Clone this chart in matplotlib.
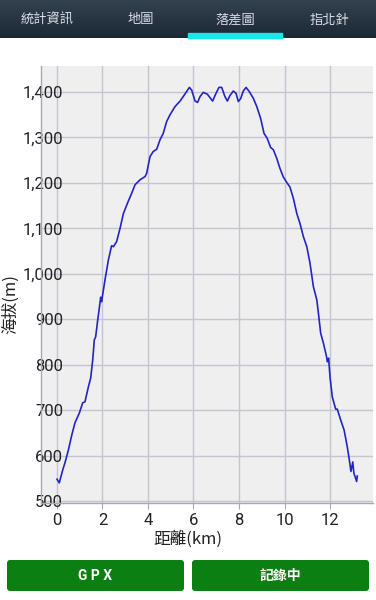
import matplotlib
matplotlib.use("Agg")
import matplotlib.pyplot as plt
import numpy as np
from matplotlib.patches import FancyBboxPatch, Rectangle

plt.rcParams['font.family'] = ['Roboto', 'Noto Sans CJK TC', 'DejaVu Sans']

FIG_W = 376
FIG_H = 600
FIG_DPI = 100

# elevation profile
dist_km = [0.0, 0.1, 0.25, 0.35, 0.5, 0.65, 0.79, 0.98, 1.13, 1.23,
           1.38, 1.48, 1.57, 1.64, 1.70, 1.79, 1.85, 1.92, 1.96, 2.11,
           2.26, 2.40, 2.48, 2.62, 2.77, 2.92, 3.11, 3.28, 3.43, 3.65,
           3.87, 3.94, 4.09, 4.23, 4.38, 4.53, 4.67, 4.82, 4.97, 5.19,
           5.41, 5.55, 5.70, 5.82, 5.92, 6.07, 6.18, 6.29, 6.43, 6.61,
           6.84, 6.99, 7.12, 7.24, 7.38, 7.49, 7.60, 7.75, 7.87, 7.97,
           8.07, 8.19, 8.31, 8.45, 8.63, 8.78, 8.95, 9.10, 9.24, 9.39,
           9.51, 9.66, 9.80, 9.95, 10.10, 10.24, 10.39, 10.54, 10.68, 10.83,
           10.98, 11.12, 11.27, 11.42, 11.49, 11.59, 11.71, 11.85, 11.88, 11.94,
           12.0, 12.10, 12.25, 12.32, 12.47, 12.62, 12.76, 12.85, 12.92, 13.0,
           13.05, 13.10, 13.17, 13.20]
elev_m = [549, 541, 569, 585, 613, 646, 673, 694, 717, 719,
          752, 771, 811, 855, 862, 899, 921, 949, 939, 987,
          1031, 1062, 1060, 1071, 1100, 1133, 1157, 1177, 1196, 1207,
          1214, 1221, 1258, 1269, 1274, 1295, 1309, 1335, 1350, 1368,
          1380, 1390, 1401, 1410, 1404, 1380, 1377, 1390, 1399, 1395,
          1380, 1397, 1410, 1410, 1390, 1380, 1392, 1402, 1397, 1379,
          1385, 1402, 1410, 1401, 1386, 1368, 1342, 1309, 1298, 1278,
          1273, 1254, 1232, 1213, 1201, 1191, 1166, 1133, 1111, 1082,
          1060, 1024, 972, 943, 914, 870, 848, 818, 807, 815,
          774, 730, 703, 703, 679, 657, 620, 591, 566, 587,
          562, 555, 544, 556]

x_ticks = [0, 2, 4, 6, 8, 10, 12]
y_ticks = [500, 600, 700, 800, 900, 1000, 1100, 1200, 1300, 1400]
tab_labels = ['統計資訊', '地圖', '落差圖', '指北針']
button_labels = ['G P X', '記錄中']

fig = plt.figure(figsize=(FIG_W / FIG_DPI, FIG_H / FIG_DPI), dpi=FIG_DPI)
fig.patch.set_facecolor('white')

# pixel-space overlay for the app chrome (tabs, buttons)
ui = fig.add_axes([0, 0, 1, 1], zorder=0)
ui.set_xlim(0, FIG_W)
ui.set_ylim(FIG_H, 0)
ui.axis('off')

grad = np.linspace(0, 1, 50).reshape(-1, 1)
ui.imshow(grad, extent=[0, FIG_W, 38, 0], cmap=matplotlib.colors.LinearSegmentedColormap.from_list(
    'bar', ['#34414f', '#1c2835']), aspect='auto', zorder=1)
ui.add_patch(Rectangle((188, 33), 94, 5, color='#19e6ef', zorder=2))
for i, lab in enumerate(tab_labels):
    ui.text(47 + i * 94, 20, lab, ha='center', va='center', color='#d8dee6',
            fontsize=9.5, fontfamily=['Noto Sans CJK TC', 'DejaVu Sans'], zorder=3)

for i, lab in enumerate(button_labels):
    x0 = 7 + i * 185
    ui.add_patch(FancyBboxPatch((x0, 560), 177, 31, boxstyle='round,pad=0,rounding_size=3',
                                facecolor='#0c7f12', edgecolor='none', zorder=1))
    ui.text(x0 + 88.5, 576, lab, ha='center', va='center', color='white', fontsize=10,
            fontweight='bold', fontfamily=['Roboto', 'Noto Sans CJK TC'], zorder=2)

# chart
ax = fig.add_axes([41 / FIG_W, 1 - 503 / FIG_H, 332 / FIG_W, 437 / FIG_H], zorder=2)
ax.set_facecolor('#efefef')
ax.plot(dist_km, elev_m, color='#2424c4', linewidth=1.2, zorder=3)
ax.set_xlim(-0.703, 13.89)
ax.set_ylim(496.7, 1457)
ax.set_xticks(x_ticks)
ax.set_yticks(y_ticks)
ax.set_yticklabels(['{:,}'.format(v) for v in y_ticks])
ax.grid(True, color='#c4c4d4', linewidth=1.0, zorder=1)
ax.set_axisbelow(True)
for s in ['top', 'right']:
    ax.spines[s].set_visible(False)
for s in ['left', 'bottom']:
    ax.spines[s].set_color('#a8a8b0')
    ax.spines[s].set_linewidth(1.0)
ax.tick_params(axis='y', length=0, pad=-16, labelsize=12, labelcolor='#222222')
ax.tick_params(axis='x', length=4, color='#a8a8b0', pad=3, labelsize=12, labelcolor='#222222')

fig.text(188 / FIG_W, 1 - 539 / FIG_H, '距離(km)', ha='center', va='center', fontsize=12,
         color='#222222', fontfamily=['Noto Sans CJK TC', 'DejaVu Sans'])
fig.text(11 / FIG_W, 1 - 304 / FIG_H, '海拔(m)', ha='center', va='center', rotation=90,
         fontsize=12, color='#222222', fontfamily=['Noto Sans CJK TC', 'DejaVu Sans'])

fig.savefig('out.png', dpi=FIG_DPI)
